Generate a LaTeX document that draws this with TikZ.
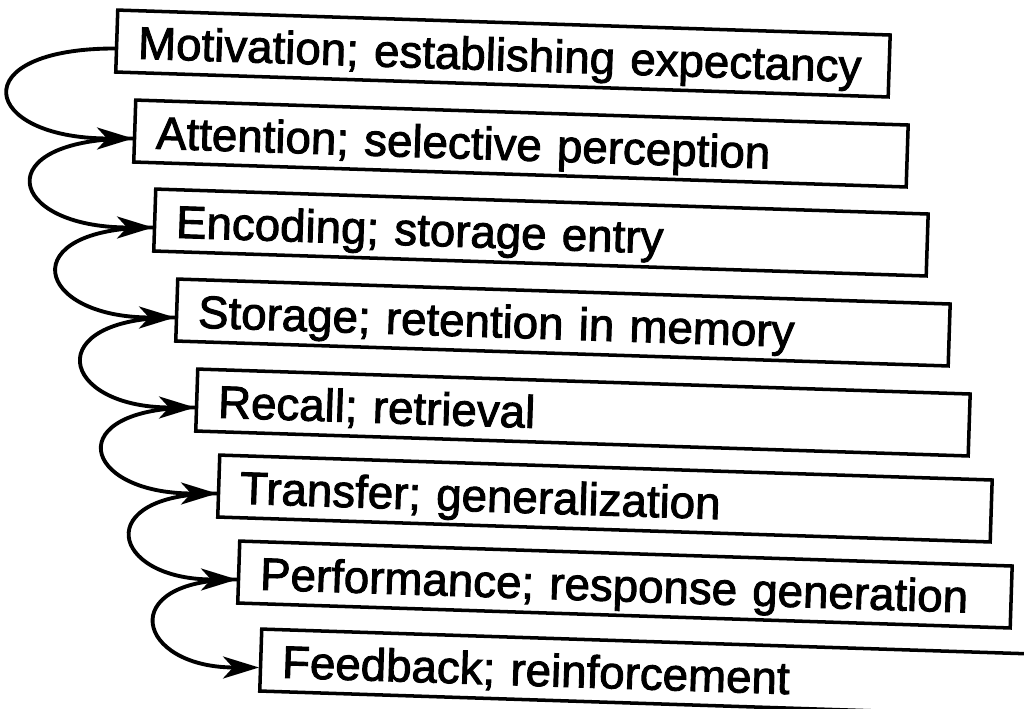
\documentclass[tikz,border=0pt]{standalone}
\usepackage{fontspec}
\setmainfont{Liberation Sans}
\newfontfamily\stagefont{Liberation Sans}[FakeBold=2]
\usetikzlibrary{arrows.meta}

\begin{document}
\begin{tikzpicture}[
    x=0.02cm, y=-0.02cm,
    >=Stealth,
    stage/.style={draw, line width=2pt, rotate=-1.85, anchor=west,
        minimum height=1.24cm, text width=14.6cm, inner xsep=0.43cm,
        inner ysep=0.1cm, text height=0.72cm, text depth=0.04cm,
        align=left, font=\stagefont\fontsize{26}{30}\selectfont},
    link/.style={-{Stealth[length=0.72cm, width=0.44cm, inset=0.2cm]}, line width=2.2pt}
]

% ============================================================
% Page frame (pixel units)
% ============================================================
\useasboundingbox (0,0) rectangle (1024,709);

% ============================================================
% Stages
% ============================================================
\node[stage] (s1) at (115,41)  {Motivation; establishing expectancy};
\node[stage] (s2) at (133,131) {Attention; selective perception};
\node[stage] (s3) at (153,220) {Encoding; storage entry};
\node[stage] (s4) at (175,310) {Storage; retention in memory};
\node[stage] (s5) at (195,400) {Recall; retrieval};
\node[stage] (s6) at (217,486) {Transfer; generalization};
\node[stage] (s7) at (237,572) {Performance; response generation};
\node[stage] (s8) at (259,660) {Feedback; reinforcement};

% ============================================================
% Loops between stages
% ============================================================
\foreach \i/\j/\c in {1/2/153, 2/3/147, 3/4/141, 4/5/136,
                      5/6/136, 6/7/127, 7/8/123} {
    \draw[link] ([yshift=-0.15cm]s\i.west)
        .. controls +(-\c,0) and +(-\c,0) .. ([yshift=-0.15cm]s\j.west);
}

\end{tikzpicture}
\end{document}
